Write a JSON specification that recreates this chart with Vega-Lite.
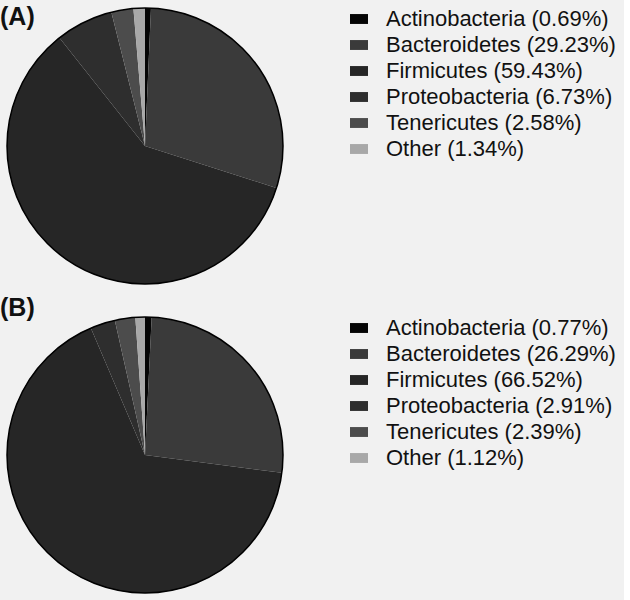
{
  "$schema": "https://vega.github.io/schema/vega-lite/v6.json",
  "background": "#f1f1f1",
  "padding": 0,
  "config": {
    "view": {"stroke": null},
    "font": "Liberation Sans",
    "legend": {
      "labelFont": "Liberation Sans",
      "labelFontSize": 22,
      "labelColor": "#111",
      "symbolType": "M-1,-0.55H1V0.55H-1Z",
      "symbolSize": 324,
      "symbolStrokeWidth": 0,
      "labelOffset": 16,
      "rowPadding": 4,
      "padding": 8,
      "offset": 50,
      "labelLimit": 400
    },
    "title": {"font": "Liberation Sans", "fontSize": 25, "fontWeight": "bold", "color": "#111", "anchor": "start", "frame": "group", "offset": 0}
  },
  "datasets": {
    "A": [
      {"phylum": "Actinobacteria", "label": "Actinobacteria (0.69%)", "pct": 0.69, "order": 1},
      {"phylum": "Bacteroidetes", "label": "Bacteroidetes (29.23%)", "pct": 29.23, "order": 2},
      {"phylum": "Firmicutes", "label": "Firmicutes (59.43%)", "pct": 59.43, "order": 3},
      {"phylum": "Proteobacteria", "label": "Proteobacteria (6.73%)", "pct": 6.73, "order": 4},
      {"phylum": "Tenericutes", "label": "Tenericutes (2.58%)", "pct": 2.58, "order": 5},
      {"phylum": "Other", "label": "Other (1.34%)", "pct": 1.34, "order": 6}
    ],
    "B": [
      {"phylum": "Actinobacteria", "label": "Actinobacteria (0.77%)", "pct": 0.77, "order": 1},
      {"phylum": "Bacteroidetes", "label": "Bacteroidetes (26.29%)", "pct": 26.29, "order": 2},
      {"phylum": "Firmicutes", "label": "Firmicutes (66.52%)", "pct": 66.52, "order": 3},
      {"phylum": "Proteobacteria", "label": "Proteobacteria (2.91%)", "pct": 2.91, "order": 4},
      {"phylum": "Tenericutes", "label": "Tenericutes (2.39%)", "pct": 2.39, "order": 5},
      {"phylum": "Other", "label": "Other (1.12%)", "pct": 1.12, "order": 6}
    ]
  },
  "vconcat": [
    {
      "title": {"text": "(A)", "dy": 34},
      "width": 290,
      "height": 292,
      "data": {"name": "A"},
      "layer": [
        {
          "mark": {"type": "arc", "outerRadius": 138},
          "encoding": {
            "theta": {"field": "pct", "type": "quantitative", "stack": true},
            "order": {"field": "order", "type": "quantitative"},
            "color": {
              "field": "label", "type": "nominal", "title": null,
              "sort": {"field": "order"},
              "scale": {"range": ["#050505", "#3a3a3a", "#262626", "#2e2e2e", "#4c4c4c", "#a8a8a8"]}
            }
          }
        },
        {
          "mark": {"type": "arc", "outerRadius": 138, "fillOpacity": 0, "stroke": "#000", "strokeWidth": 1.5},
          "encoding": {
            "theta": {"aggregate": "sum", "field": "pct", "type": "quantitative"}
          }
        }
      ]
    },
    {
      "title": {"text": "(B)", "dy": 16},
      "width": 290,
      "height": 292,
      "data": {"name": "B"},
      "layer": [
        {
          "mark": {"type": "arc", "outerRadius": 138},
          "encoding": {
            "theta": {"field": "pct", "type": "quantitative", "stack": true},
            "order": {"field": "order", "type": "quantitative"},
            "color": {
              "field": "label", "type": "nominal", "title": null,
              "sort": {"field": "order"},
              "scale": {"range": ["#050505", "#3a3a3a", "#262626", "#2e2e2e", "#4c4c4c", "#a8a8a8"]}
            }
          }
        },
        {
          "mark": {"type": "arc", "outerRadius": 138, "fillOpacity": 0, "stroke": "#000", "strokeWidth": 1.5},
          "encoding": {
            "theta": {"aggregate": "sum", "field": "pct", "type": "quantitative"}
          }
        }
      ]
    }
  ],
  "spacing": 4,
  "resolve": {"scale": {"color": "independent", "theta": "independent"}, "legend": {"color": "independent"}}
}
